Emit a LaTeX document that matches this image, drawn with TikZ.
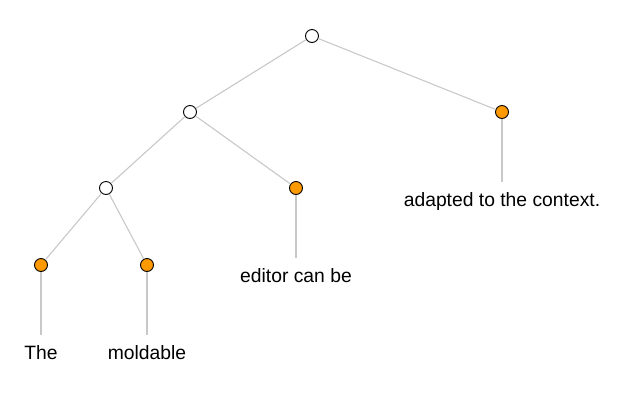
\documentclass[tikz,border=0pt]{standalone}
\usepackage{fontspec}
\setmainfont{Liberation Sans}
\begin{document}
\begin{tikzpicture}[x=1pt,y=-1pt,
  inner/.style={circle,draw=black,line width=0.9pt,fill=white,minimum size=13pt,inner sep=0pt},
  leaf/.style={circle,draw=black,line width=0.9pt,fill={rgb,255:red,255;green,153;blue,0},minimum size=13pt,inner sep=0pt},
  word/.style={anchor=base,inner xsep=0pt,inner ysep=10pt,font=\fontsize{19.3}{23}\selectfont},
  edge/.style={draw={rgb,255:red,200;green,200;blue,200},line width=1.1pt}]
\useasboundingbox (0,0) rectangle (622,400);
\node[inner] (root) at (312,36) {};
\node[inner] (l) at (190,112) {};
\node[leaf] (r) at (502,112) {};
\node[inner] (ll) at (106,188) {};
\node[leaf] (lr) at (296,188) {};
\node[leaf] (lll) at (41,265) {};
\node[leaf] (llr) at (147,265) {};
\node[word] (wthe) at (41,359) {The};
\node[word] (wmold) at (147,359) {moldable};
\node[word] (wedit) at (296,282) {editor can be};
\node[word] (wadapt) at (502,206) {adapted to the context.};
\draw[edge] (root) -- (l);
\draw[edge] (root) -- (r);
\draw[edge] (l) -- (ll);
\draw[edge] (l) -- (lr);
\draw[edge] (ll) -- (lll);
\draw[edge] (ll) -- (llr);
\draw[edge] (lll) -- (wthe);
\draw[edge] (llr) -- (wmold);
\draw[edge] (lr) -- (wedit);
\draw[edge] (r) -- (wadapt);
\end{tikzpicture}
\end{document}
